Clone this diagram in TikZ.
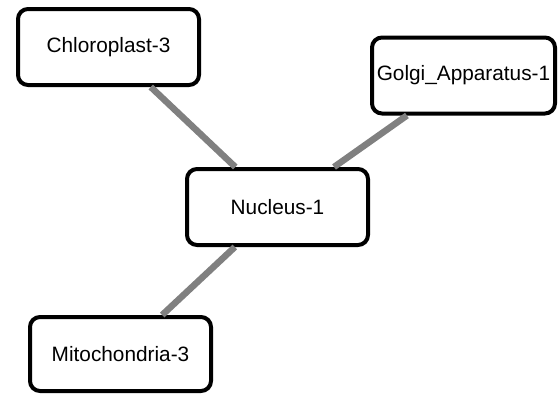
\documentclass[tikz,border=0pt]{standalone}
\usepackage{fontspec}
\setmainfont{Liberation Sans}
\begin{document}
\begin{tikzpicture}[x=1pt,y=-1pt,
  cellbox/.style={draw=black, line width=4pt, rounded corners=10pt, fill=white,
    minimum width=181pt, minimum height=76pt, inner sep=0pt,
    font=\fontsize{20.8pt}{24pt}\selectfont},
  link/.style={draw=black!50, line width=6.5pt}]
\useasboundingbox (0,0) rectangle (559,397);
\node[cellbox] (chl) at (108.5,47) {Chloroplast-3};
\node[cellbox, minimum width=183pt] (gol) at (463.5,75.5) {Golgi\_Apparatus-1};
\node[cellbox] (nuc) at (277.5,207) {Nucleus-1};
\node[cellbox, minimum height=74pt] (mit) at (120.5,354) {Mitochondria-3};
\path[link] (chl) -- (nuc);
\path[link] (gol) -- (nuc);
\path[link] (mit) -- (nuc);
\end{tikzpicture}
\end{document}
